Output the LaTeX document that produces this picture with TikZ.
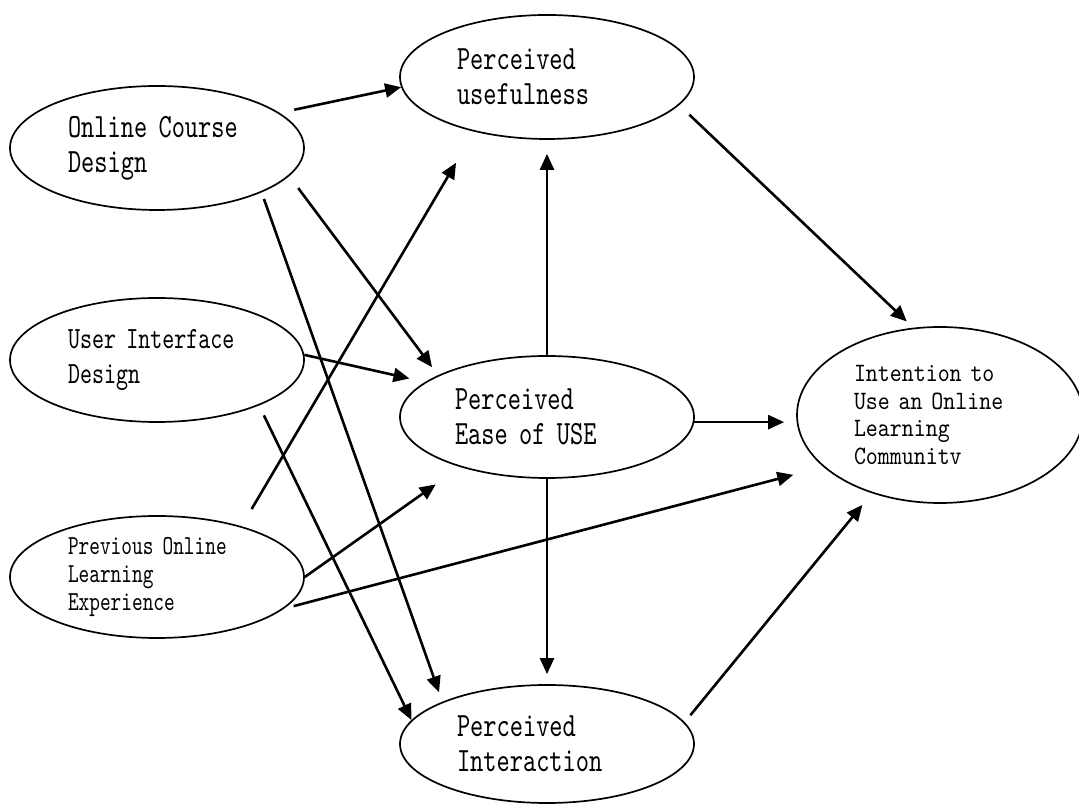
\documentclass[tikz,border=0pt]{standalone}
\usepackage{fontspec}
\newfontfamily\boxfont[Extension=.otf,FakeStretch=0.74]{lmmono10-regular}
\newfontfamily\wideboxfont[Extension=.otf,FakeStretch=0.86]{lmmono10-regular}
\usetikzlibrary{shapes.geometric,arrows.meta}
\begin{document}
\begin{tikzpicture}[x=1pt,y=1pt,
  factor/.style={draw,ellipse,line width=1.7pt,inner sep=0pt,minimum width=294pt,minimum height=124pt,align=left},
  bigtext/.style={font=\boxfont\fontsize{34}{35}\selectfont},
  midtext/.style={font=\boxfont\fontsize{30.9}{35}\selectfont},
  smalltext/.style={font=\boxfont\fontsize{27.5}{28}\selectfont},
  link/.style={line width=2.6pt,-{Triangle[length=16pt,width=14pt]}}]
\useasboundingbox (0,0) rectangle (1079,805);
\node[factor,bigtext,text width=178pt] (ocd) at (157,657) {Online Course\\Design};
\node[factor,bigtext,text width=180pt] (pu) at (547,728) {Perceived\\usefulness};
\node[factor,midtext,text width=178pt] (uid) at (157,445) {User Interface\\Design};
\node[factor,bigtext,text width=184pt,minimum height=122pt] (peu) at (547,388) {Perceived\\Ease of USE};
\node[factor,smalltext,text width=178pt,minimum height=122pt] (pole) at (157,228) {Previous Online\\Learning\\Experience};
\node[factor,bigtext,text width=180pt,minimum height=118pt] (pi) at (547,61) {Perceived\\Interaction};
\node[factor,font=\wideboxfont\fontsize{26.5}{27.5}\selectfont,text width=172pt,minimum width=286pt,minimum height=176pt] (int) at (940,390) {Intention to\\Use an Online\\Learning\\Communitv};
\draw[link,shorten <=15pt] (ocd.16) -- (pu.184);
\draw[link,shorten <=15pt,shorten >=10pt] (ocd.-12) -- (peu.159);
\draw[link,shorten <=7pt,shorten >=10pt] (ocd.-23) -- (pi.158);
\draw[link,shorten >=16pt] (uid.2) -- (peu.164);
\draw[link,shorten <=11pt] (uid.-24) -- (pi.170);
\draw[link,shorten <=20pt,shorten >=36pt] (pole.31) -- (pu.217);
\draw[link,shorten >=30pt] (pole.0) -- (peu.210);
\draw[link,shorten <=10pt,shorten >=31pt] (pole.-14) -- (int.204);
\draw[link,shorten >=14pt] (peu.north) -- (pu.south);
\draw[link,shorten >=12pt] (peu.-2) -- (peu.-2 -| int.west);
\draw[link,shorten >=10pt] (peu.south) -- (pi.north);
\draw[link,shorten <=14pt,shorten >=9pt] (pu.-12) -- (int.107);
\draw[link,shorten <=9pt,shorten >=15pt] (pi.9) -- (int.229);
\end{tikzpicture}
\end{document}
